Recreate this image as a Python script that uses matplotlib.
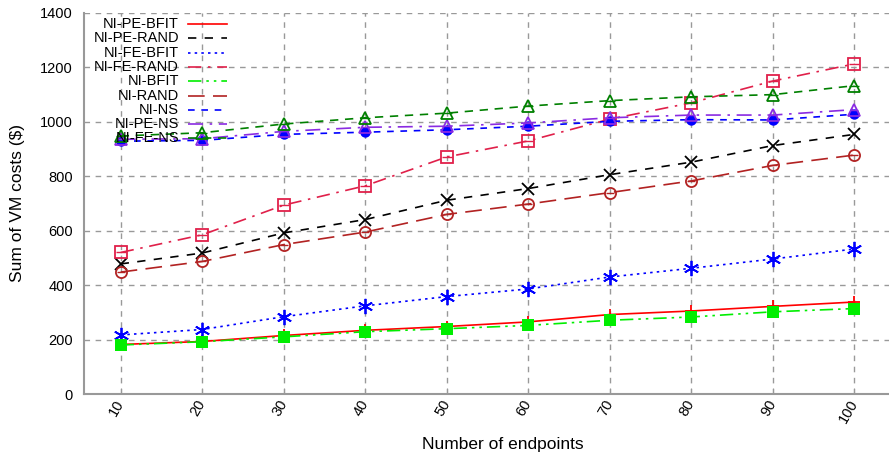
import matplotlib
matplotlib.use("Agg")
import matplotlib.pyplot as plt
from matplotlib.lines import Line2D

plt.rcParams['font.family'] = ['Liberation Sans', 'DejaVu Sans']

endpoints = [10, 20, 30, 40, 50, 60, 70, 80, 90, 100]

ni_pe_bfit = [182, 193, 215, 234, 248, 265, 292, 305, 322, 338]
ni_pe_rand = [478, 518, 592, 641, 712, 755, 806, 852, 913, 954]
ni_fe_bfit = [217, 237, 284, 324, 358, 386, 430, 462, 496, 533]
ni_fe_rand = [520, 585, 694, 765, 871, 930, 1010, 1070, 1150, 1213]
ni_bfit = [180, 192, 210, 229, 240, 252, 271, 283, 302, 314]
ni_rand = [448, 487, 549, 595, 660, 698, 740, 783, 840, 878]
ni_ns = [929, 932, 954, 962, 971, 984, 1002, 1008, 1007, 1028]
ni_pe_ns = [936, 938, 965, 980, 984, 996, 1015, 1025, 1025, 1045]
ni_fe_ns = [948, 960, 992, 1015, 1032, 1058, 1078, 1092, 1100, 1133]

series = [
    ("NI-PE-BFIT", ni_pe_bfit, dict(color="#ff0000", ls="-", marker="+", ms=9, mew=1.3, mfc="none")),
    ("NI-PE-RAND", ni_pe_rand, dict(color="#000000", ls=(0, (5, 5)), marker="x", ms=8.5, mew=1.3)),
    ("NI-FE-BFIT", ni_fe_bfit, dict(color="#0000ff", ls=(0, (1.5, 2.5)), marker=(6, 2, 0), ms=11, mew=1.3)),
    ("NI-FE-RAND", ni_fe_rand, dict(color="#e0204a", ls=(0, (8, 4, 1.5, 4)), marker="s", ms=8.5, mew=1.3, mfc="none")),
    ("NI-BFIT", ni_bfit, dict(color="#00ee00", ls=(0, (8, 3, 1.5, 3, 1.5, 3)), marker="s", ms=9, mew=0, mfc="#00ee00")),
    ("NI-RAND", ni_rand, dict(color="#b22222", ls=(0, (10, 5)), marker="o", ms=8, mew=1.3, mfc="none")),
    ("NI-NS", ni_ns, dict(color="#0000ff", ls=(0, (4, 4)), marker="o", ms=7.5, mew=0, mfc="#0000ff")),
    ("NI-PE-NS", ni_pe_ns, dict(color="#8a2be2", ls=(0, (9, 4, 1.5, 4)), marker="^", ms=8, mew=1.3, mfc="none")),
    ("NI-FE-NS", ni_fe_ns, dict(color="#008000", ls=(0, (5, 4)), marker="^", ms=8.5, mew=1.3, mfc="none")),
]

fig = plt.figure(figsize=(8.89, 4.55), dpi=100)
# plot area runs past the right edge of the canvas
ax = fig.add_axes([84 / 889, 61 / 455, 838 / 889, 381 / 455])

for name, vals, st in series:
    ax.plot(endpoints, vals, lw=1.2, zorder=3, clip_on=False, **st)
    if st.get("mfc") == "none" and st["marker"] in ("s", "o", "^"):
        ax.plot(endpoints, vals, ls="none", marker="_", ms=st["ms"] * 0.8,
                mew=1.0, color=st["color"], zorder=3, clip_on=False)

ax.set_xlim(5.5, 108.3)
ax.set_ylim(0, 1400)
ax.set_xticks(endpoints)
ax.set_xticklabels([str(e) for e in endpoints], rotation=60, fontsize=10.5,
                   ha="right", va="center", rotation_mode="anchor")
ax.set_yticks(range(0, 1401, 200))
ax.tick_params(axis="y", labelsize=10.5, length=0, pad=8)
ax.tick_params(axis="x", length=4, color="#999999", direction="in", pad=5)
ax.grid(True, color="#999999", ls=(0, (4, 4)), lw=1.0)

for side in ("top", "right"):
    ax.spines[side].set_visible(False)
for side in ("left", "bottom"):
    ax.spines[side].set_color("#999999")
    ax.spines[side].set_linewidth(1.5)

ax.set_ylabel("Sum of VM costs ($)", fontsize=12.5)
ax.yaxis.set_label_coords(-(84 - 18) / 838, 0.5)
ax.set_xlabel("Number of endpoints", fontsize=12.5)
ax.xaxis.set_label_coords(0.5, -(444 - 394) / 381)
ax.xaxis.label.set_va("center")
ax.yaxis.label.set_va("center")

# key placed in the upper left corner, text right-aligned before each line sample
x_text = (179 - 84) / 838
x0, x1 = (188 - 84) / 838, (227 - 84) / 838
y_top = (394 - 24) / 381
dy = 14.3 / 381
for i, (name, vals, st) in enumerate(series):
    y = y_top - i * dy
    ax.text(x_text, y, name, transform=ax.transAxes, ha="right", va="center",
            fontsize=10.5, zorder=6)
    ax.add_line(Line2D([x0, x1], [y, y], transform=ax.transAxes, color=st["color"],
                       ls=st["ls"], lw=1.2, zorder=6))

fig.savefig("out.png", dpi=100)
